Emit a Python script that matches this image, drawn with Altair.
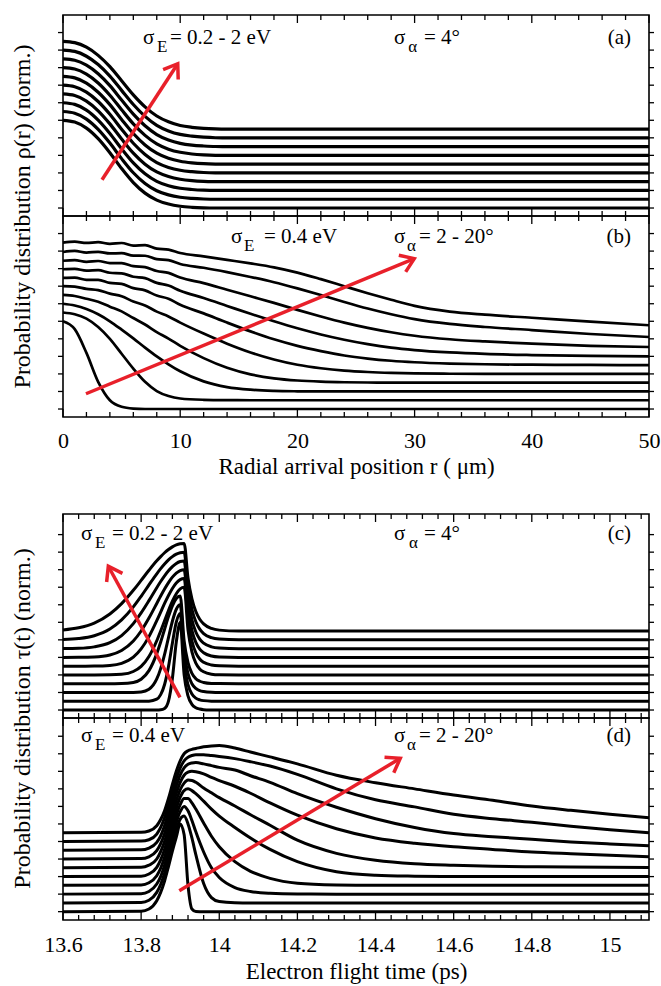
import math
import altair as alt
import pandas as pd

FONT = "Liberation Serif, Times New Roman, Times, serif"
RED = "#e8202a"

# ---------------- shared ticks ----------------
Y_TICKS = [0, 2, 4, 6, 8, 10, 12, 14, 16, 18, 20]
OFFSETS = [0, 1, 2, 3, 4, 5, 6, 7, 8, 9]          # vertical stacking of the curves

R_MAJOR = [0, 10, 20, 30, 40, 50]
R_MINOR = [2, 4, 6, 8, 12, 14, 16, 18, 22, 24, 26, 28, 32, 34, 36, 38, 42, 44, 46, 48]
T_MAJOR = [13.6, 13.8, 14.0, 14.2, 14.4, 14.6, 14.8, 15.0]
T_MINOR = [13.64, 13.68, 13.72, 13.76, 13.84, 13.88, 13.92, 13.96, 14.04, 14.08, 14.12,
           14.16, 14.24, 14.28, 14.32, 14.36, 14.44, 14.48, 14.52, 14.56, 14.64, 14.68,
           14.72, 14.76, 14.84, 14.88, 14.92, 14.96, 15.04, 15.08]

# ---------------- panel (a): rho(r), sigma_E = 0.2 - 2 eV ----------------
A_R = [0, 1, 2, 3, 4, 5, 6, 7, 8, 9, 10, 11, 12, 13, 14, 16, 50]
A_CURVES = [
    [10, 9.80, 9.10, 7.90, 6.30, 4.50, 2.90, 1.70, 0.90, 0.45, 0.20, 0.08, 0.02, 0, 0, 0, 0],
    [10, 9.81, 9.13, 7.96, 6.40, 4.63, 3.02, 1.80, 0.97, 0.50, 0.23, 0.10, 0.03, 0, 0, 0, 0],
    [10, 9.81, 9.16, 8.02, 6.50, 4.75, 3.14, 1.90, 1.04, 0.54, 0.25, 0.11, 0.03, 0, 0, 0, 0],
    [10, 9.82, 9.18, 8.08, 6.59, 4.87, 3.26, 2.00, 1.11, 0.59, 0.28, 0.12, 0.04, 0.01, 0, 0, 0],
    [10, 9.83, 9.21, 8.14, 6.69, 4.98, 3.38, 2.10, 1.18, 0.63, 0.30, 0.14, 0.05, 0.01, 0, 0, 0],
    [10, 9.83, 9.23, 8.19, 6.78, 5.09, 3.49, 2.19, 1.25, 0.67, 0.33, 0.15, 0.05, 0.01, 0, 0, 0],
    [10, 9.84, 9.26, 8.25, 6.86, 5.20, 3.59, 2.28, 1.31, 0.71, 0.35, 0.16, 0.06, 0.01, 0, 0, 0],
    [10, 9.84, 9.28, 8.30, 6.95, 5.31, 3.70, 2.37, 1.37, 0.75, 0.37, 0.17, 0.07, 0.01, 0, 0, 0],
    [10, 9.85, 9.30, 8.35, 7.03, 5.41, 3.80, 2.45, 1.43, 0.79, 0.39, 0.19, 0.07, 0.01, 0, 0, 0],
    [10, 9.85, 9.33, 8.40, 7.11, 5.51, 3.90, 2.53, 1.49, 0.83, 0.41, 0.20, 0.08, 0.02, 0, 0, 0],
]

# ---------------- panel (b): rho(r), sigma_alpha = 2 - 20 deg ----------------
B_R = [0, 1, 2, 3, 4, 5, 6, 7, 8, 9, 10, 12, 14, 16, 18, 20, 22, 24, 26, 28, 30, 33, 36, 40, 45, 50]
B_CURVES = [
    [10, 9.1, 6.4, 3.1, 1.0, 0.25, 0.05, 0, 0, 0, 0, 0, 0, 0, 0, 0, 0, 0, 0, 0, 0, 0, 0, 0, 0, 0],
    [10, 9.8, 9.3, 8.35, 7.0, 5.3, 3.6, 2.1, 1.05, 0.48, 0.2, 0.05, 0.01, 0, 0, 0, 0, 0, 0, 0, 0, 0, 0, 0, 0, 0],
    [10, 9.8, 9.4, 8.8, 8.0, 7.05, 6.05, 5.0, 4.0, 3.1, 2.3, 1.15, 0.5, 0.2, 0.07, 0.02, 0, 0, 0, 0, 0, 0, 0, 0, 0, 0],
    [10, 9.88, 9.57, 9.23, 8.67, 8.13, 7.37, 6.63, 5.77, 5.03, 4.2, 2.8, 1.7, 0.95, 0.5, 0.25, 0.12, 0.05, 0.02, 0, 0, 0, 0, 0, 0, 0],
    [10, 9.95, 9.7, 9.55, 9.15, 8.85, 8.25, 7.8, 7.1, 6.55, 5.85, 4.6, 3.45, 2.45, 1.65, 1.05, 0.65, 0.38, 0.22, 0.12, 0.06, 0.02, 0, 0, 0, 0],
    [9.94, 9.97, 9.73, 9.72, 9.38, 9.27, 8.78, 8.52, 7.93, 7.57, 6.88, 5.9, 4.85, 3.85, 2.95, 2.2, 1.6, 1.1, 0.75, 0.5, 0.33, 0.18, 0.1, 0.05, 0.02, 0],
    [9.93, 9.97, 9.78, 9.82, 9.53, 9.47, 9.08, 8.92, 8.38, 8.07, 7.48, 6.65, 5.75, 4.85, 4.0, 3.2, 2.5, 1.9, 1.4, 1.0, 0.72, 0.45, 0.28, 0.15, 0.05, 0],
    [9.9, 9.97, 9.78, 9.87, 9.63, 9.62, 9.28, 9.17, 8.73, 8.52, 7.98, 7.35, 6.6, 5.85, 5.1, 4.3, 3.55, 2.85, 2.25, 1.75, 1.35, 0.95, 0.7, 0.45, 0.2, 0.07],
    [9.9, 10.02, 9.83, 9.92, 9.73, 9.77, 9.48, 9.47, 9.08, 8.97, 8.53, 8.1, 7.6, 7.05, 6.45, 5.75, 5.0, 4.2, 3.45, 2.8, 2.25, 1.7, 1.35, 1.0, 0.55, 0.21],
    [9.97, 10.07, 9.93, 10.02, 9.83, 9.92, 9.63, 9.67, 9.28, 9.17, 8.78, 8.4, 8.0, 7.6, 7.15, 6.55, 5.8, 5.0, 4.2, 3.45, 2.75, 2.1, 1.75, 1.4, 0.95, 0.55],
]

# ---------------- panel (c): tau(t), sigma_E = 0.2 - 2 eV ----------------
C_T = [13.6, 13.64, 13.68, 13.72, 13.75, 13.78, 13.8, 13.82, 13.84, 13.85, 13.86, 13.87, 13.88,
       13.89, 13.9, 13.91, 13.92, 13.93, 13.94, 13.95, 13.96, 13.98, 14.0, 14.05, 15.1]
C_CURVES = [
    [0, 0, 0, 0, 0, 0, 0, 0, 0, 0.02, 0.17, 1.01, 3.6, 7.75, 10, 4.03, 1.62, 0.65, 0.26, 0.11, 0.04, 0.01, 0, 0, 0],
    [0, 0, 0, 0, 0, 0, 0, 0.01, 0.24, 0.76, 1.91, 3.95, 6.62, 9.02, 10, 4.35, 1.89, 0.82, 0.36, 0.16, 0.07, 0.01, 0, 0, 0],
    [0, 0, 0, 0, 0, 0.01, 0.06, 0.36, 1.54, 2.72, 4.35, 6.26, 8.12, 9.49, 10, 4.63, 2.15, 1.0, 0.46, 0.21, 0.1, 0.02, 0, 0, 0],
    [0, 0, 0, 0, 0.01, 0.14, 0.51, 1.49, 3.43, 4.75, 6.21, 7.65, 8.88, 9.71, 10, 4.9, 2.4, 1.17, 0.57, 0.28, 0.14, 0.03, 0.01, 0, 0],
    [0, 0, 0, 0.01, 0.07, 0.39, 0.98, 2.11, 3.9, 5.01, 6.18, 7.35, 8.41, 9.26, 9.81, 10, 5.13, 2.64, 1.35, 0.69, 0.36, 0.09, 0.02, 0, 0],
    [0, 0, 0.01, 0.08, 0.32, 1.03, 1.97, 3.37, 5.18, 6.16, 7.15, 8.06, 8.86, 9.48, 9.87, 10, 5.35, 2.87, 1.53, 0.82, 0.44, 0.13, 0.04, 0, 0],
    [0, 0.01, 0.05, 0.28, 0.79, 1.87, 3.01, 4.48, 6.15, 7.0, 7.8, 8.53, 9.15, 9.61, 9.9, 10, 5.55, 3.08, 1.71, 0.95, 0.53, 0.16, 0.05, 0, 0],
    [0.01, 0.04, 0.2, 0.68, 1.49, 2.85, 4.07, 5.47, 6.95, 7.65, 8.3, 8.88, 9.35, 9.71, 9.93, 10, 5.74, 3.29, 1.89, 1.08, 0.62, 0.2, 0.07, 0, 0],
    [0.04, 0.15, 0.47, 1.24, 2.28, 3.76, 4.97, 6.26, 7.53, 8.12, 8.65, 9.12, 9.49, 9.77, 9.94, 10, 5.91, 3.49, 2.06, 1.22, 0.72, 0.25, 0.09, 0.01, 0],
    [0.13, 0.37, 0.91, 1.95, 3.13, 4.65, 5.78, 6.93, 8.01, 8.49, 8.93, 9.3, 9.6, 9.82, 9.95, 10, 6.07, 3.68, 2.23, 1.35, 0.82, 0.3, 0.11, 0.01, 0],
]

# ---------------- panel (d): tau(t), sigma_alpha = 2 - 20 deg ----------------
D_T = [13.6, 13.8, 13.82, 13.84, 13.85, 13.86, 13.87, 13.88, 13.89, 13.9, 13.91, 13.92, 13.93, 13.94,
       13.96, 13.98, 14.0, 14.04, 14.08, 14.13, 14.2, 14.3, 14.4, 14.5, 14.6, 14.7, 14.8, 14.9, 15.0, 15.1]
D_CURVES = [
    [0, 0.05, 0.3, 1.25, 2.2, 3.5, 5.15, 6.9, 8.5, 10.0, 8.8, 3.0, 0.3, 0.02, 0, 0, 0, 0, 0, 0, 0, 0, 0, 0, 0, 0, 0, 0, 0, 0],
    [0, 0.05, 0.3, 1.2, 2.1, 3.4, 5.0, 6.75, 8.35, 9.55, 9.9, 9.0, 7.4, 5.5, 2.2, 0.6, 0.15, 0.02, 0, 0, 0, 0, 0, 0, 0, 0, 0, 0, 0, 0],
    [0, 0.05, 0.3, 1.15, 2.0, 3.3, 4.9, 6.6, 8.2, 9.4, 10.0, 9.5, 8.4, 7.1, 4.8, 3.0, 1.9, 0.75, 0.3, 0.1, 0.02, 0, 0, 0, 0, 0, 0, 0, 0, 0],
    [0, 0.05, 0.3, 1.1, 1.95, 3.2, 4.75, 6.45, 8.0, 9.2, 9.9, 9.9, 9.4, 8.7, 7.1, 5.6, 4.4, 2.7, 1.6, 0.8, 0.25, 0.05, 0, 0, 0, 0, 0, 0, 0, 0],
    [0, 0.05, 0.3, 1.05, 1.9, 3.1, 4.6, 6.3, 7.8, 9.05, 9.8, 10.0, 9.8, 9.45, 8.6, 7.7, 6.9, 5.6, 4.4, 3.1, 1.7, 0.55, 0.15, 0.04, 0, 0, 0, 0, 0, 0],
    [0, 0.05, 0.3, 1.0, 1.85, 3.0, 4.5, 6.15, 7.65, 8.9, 9.65, 10.0, 9.95, 9.75, 9.1, 8.55, 8.0, 7.05, 6.05, 4.85, 3.15, 1.65, 0.85, 0.45, 0.28, 0.17, 0.12, 0.08, 0.05, 0.03],
    [0, 0.05, 0.25, 0.95, 1.75, 2.9, 4.4, 6.0, 7.5, 8.75, 9.55, 9.9, 10.0, 9.95, 9.7, 9.3, 8.95, 8.3, 7.5, 6.4, 5.0, 3.45, 2.4, 1.8, 1.4, 1.1, 0.8, 0.6, 0.42, 0.27],
    [0, 0.05, 0.25, 0.9, 1.65, 2.8, 4.25, 5.85, 7.35, 8.6, 9.4, 9.8, 9.95, 10.0, 9.85, 9.65, 9.45, 9.15, 8.5, 7.75, 6.45, 4.9, 3.6, 2.6, 1.9, 1.55, 1.25, 0.95, 0.72, 0.52],
    [0, 0.05, 0.2, 0.85, 1.6, 2.7, 4.1, 5.7, 7.2, 8.4, 9.2, 9.6, 9.8, 9.9, 9.9, 9.8, 9.7, 9.45, 9.1, 8.6, 7.65, 6.0, 4.75, 3.95, 3.1, 2.6, 2.2, 1.75, 1.35, 1.0],
    [0, 0.05, 0.2, 0.8, 1.5, 2.5, 3.9, 5.5, 7.0, 8.2, 9.0, 9.35, 9.5, 9.6, 9.8, 9.9, 9.95, 9.65, 9.2, 8.65, 7.85, 6.55, 5.7, 5.0, 4.3, 3.7, 3.05, 2.55, 2.1, 1.72],
]

# ---------------- red arrows: (tail x, tail y) -> (head x, head y) ----------------
ARROW_A = [(3.33, 3.23), (9.79, 16.45)]
ARROW_B = [(1.96, 1.74), (29.97, 17.14)]
ARROW_C = [(13.8995, 1.45), (13.716, 16.39)]
ARROW_D = [(13.8977, 2.39), (14.4633, 17.48)]

# ---------------- in-panel annotations ----------------
A_TEXT = {"main": ([6.83, 9.13, 28.24, 30.80], ["σ", "= 0.2 - 2 eV", "σ", "= 4°"]),
          "sub": ([8.03, 29.45], ["E", "α"]), "tag": ([48.46], ["(a)"]), "y": 18.7}
B_TEXT = {"main": ([14.33, 17.15, 28.24, 30.38], ["σ", "= 0.4 eV", "σ", "= 2 - 20°"]),
          "sub": ([15.44, 29.35], ["E", "α"]), "tag": ([48.46], ["(b)"]), "y": 18.93}
C_TEXT = {"main": ([13.6461, 13.7254, 14.4472, 14.524], ["σ", "= 0.2 - 2 eV", "σ", "= 4°"]),
          "sub": ([13.6819, 14.4856], ["E", "α"]), "tag": ([15.0538], ["(c)"]), "y": 19.43}
D_TEXT = {"main": ([13.6461, 13.7254, 14.4472, 14.5112], ["σ", "= 0.4 eV", "σ", "= 2 - 20°"]),
          "sub": ([13.6819, 14.4805], ["E", "α"]), "tag": ([15.0538], ["(d)"]), "y": 19.3}

W = 586
CHEVRON = "M-0.57,0.82L0,0L0.57,0.82"


def curves_frame(xs, curves):
    rows = []
    for k, (vals, off) in enumerate(zip(curves, OFFSETS)):
        assert len(vals) == len(xs), (k, len(vals), len(xs))
        for x, v in zip(xs, vals):
            rows.append({"x": x, "y": v + off, "k": k})
    return pd.DataFrame(rows)


def make_panel(xs_list, curves, xdom, ydom, H, xmaj, xmin, arrow, text, line_w,
               xaxis=None, yaxis=None):
    xs = alt.Scale(domain=xdom, nice=False, zero=False)
    ys = alt.Scale(domain=ydom, nice=False, zero=False)

    def X():
        return alt.X("x:Q", scale=xs, axis=xaxis)

    def Y():
        return alt.Y("y:Q", scale=ys, axis=yaxis)

    df = curves_frame(xs_list, curves)
    lines = alt.Chart(df).mark_line(color="black", strokeWidth=line_w, interpolate="monotone",
                                    strokeJoin="round").encode(x=X(), y=Y(), detail="k:N")

    def rule(d):
        return alt.Chart(d).mark_rule(color="black", strokeWidth=1.3)

    maj = pd.DataFrame({"x": xmaj})
    mnr = pd.DataFrame({"x": xmin})
    yt = pd.DataFrame({"y": Y_TICKS})
    ticks = [
        rule(maj).encode(x=X(), y=alt.value(0), y2=alt.value(8)),
        rule(maj).encode(x=X(), y=alt.value(H), y2=alt.value(H - 8)),
        rule(mnr).encode(x=X(), y=alt.value(0), y2=alt.value(5)),
        rule(mnr).encode(x=X(), y=alt.value(H), y2=alt.value(H - 5)),
        rule(yt).encode(y=Y(), x=alt.value(-5), x2=alt.value(0)),
        rule(yt).encode(y=Y(), x=alt.value(W), x2=alt.value(W + 5)),
    ]

    (tx, ty), (hx, hy) = arrow
    sx = W / (xdom[1] - xdom[0])
    sy = H / (ydom[1] - ydom[0])
    ang = math.degrees(math.atan2((hx - tx) * sx, (hy - ty) * sy)) % 360
    adf = pd.DataFrame({"x": [tx, hx], "y": [ty, hy]})
    arrow_line = alt.Chart(adf).mark_line(color=RED, strokeWidth=3.5).encode(x=X(), y=Y())
    arrow_head = alt.Chart(adf.iloc[[1]]).mark_point(
        shape=CHEVRON, filled=False, color=RED, strokeWidth=3.5, size=1000, angle=ang,
        opacity=1, strokeJoin="miter").encode(x=X(), y=Y())

    ty_ = text["y"]
    mx, mt = text["main"]
    sxs, st = text["sub"]
    gx, gt = text["tag"]
    main = alt.Chart(pd.DataFrame({"x": mx, "y": [ty_] * len(mx), "t": mt})).mark_text(
        font=FONT, fontSize=21, align="left", baseline="alphabetic", color="black"
    ).encode(x=X(), y=Y(), text="t:N")
    sub = alt.Chart(pd.DataFrame({"x": sxs, "y": [ty_] * len(sxs), "t": st})).mark_text(
        font=FONT, fontSize=17, align="left", baseline="alphabetic", color="black", dy=8
    ).encode(x=X(), y=Y(), text="t:N")
    tag = alt.Chart(pd.DataFrame({"x": gx, "y": [ty_] * len(gx), "t": gt})).mark_text(
        font=FONT, fontSize=21, align="right", baseline="alphabetic", color="black"
    ).encode(x=X(), y=Y(), text="t:N")

    return alt.layer(lines, *ticks, arrow_line, arrow_head, main, sub, tag).properties(width=W, height=H)


def x_axis(values, fmt, title, pad, title_y):
    return alt.Axis(values=values, format=fmt, labelFont=FONT, labelFontSize=22, labelColor="black",
                    labelPadding=pad, ticks=False, tickSize=0, domain=False, grid=False,
                    labelFlush=False, labelOverlap=False,
                    title=title, titleFont=FONT, titleFontSize=23, titleFontWeight="normal",
                    titleColor="black", titleY=title_y, titleBaseline="alphabetic")


def y_axis(title):
    return alt.Axis(labels=False, ticks=False, domain=False, grid=False, title=title,
                    titleFont=FONT, titleFontSize=24, titleFontWeight="normal", titleColor="black",
                    titleX=-41, titleY=0, titleAngle=270, titleBaseline="middle", titleAlign="center")


pa = make_panel(A_R, A_CURVES, [0, 50], [-0.91, 22.0], 201, R_MAJOR, R_MINOR, ARROW_A, A_TEXT, 3.2)
pb = make_panel(B_R, B_CURVES, [0, 50], [-0.91, 22.0], 201, R_MAJOR, R_MINOR, ARROW_B, B_TEXT, 2.7,
                xaxis=x_axis(R_MAJOR, "d", "Radial arrival position r ( μm)", 13, 56),
                yaxis=y_axis("Probability distribution    ρ(r) (norm.)"))
pc = make_panel(C_T, C_CURVES, [13.6, 15.1], [-0.91, 22.35], 204, T_MAJOR, T_MINOR, ARROW_C, C_TEXT, 3.0)
pd_ = make_panel(D_T, D_CURVES, [13.6, 15.1], [-0.95, 22.08], 202, T_MAJOR, T_MINOR, ARROW_D, D_TEXT, 3.0,
                 xaxis=x_axis(T_MAJOR, "~g", "Electron flight time (ps)", 14, 58),
                 yaxis=y_axis("Probability distribution    τ(t) (norm.)"))

# empty gap between the two figure halves (room for the axis labels of panel b)
spacer = alt.Chart(pd.DataFrame({"x": [0]})).mark_point(opacity=0).encode(
    x=alt.X("x:Q", axis=None), y=alt.Y("x:Q", axis=None)
).properties(width=W, height=97, view=alt.ViewBackground(strokeOpacity=0, strokeWidth=0))

chart = alt.vconcat(pa, pb, spacer, pc, pd_, spacing=0, bounds="flush").properties(
    padding={"left": 9, "top": 13, "right": 0, "bottom": 0},
    background="white",
).configure_view(stroke="black", strokeWidth=1.6)

chart.save("out.html", embed_options={"renderer": "svg", "actions": False})
